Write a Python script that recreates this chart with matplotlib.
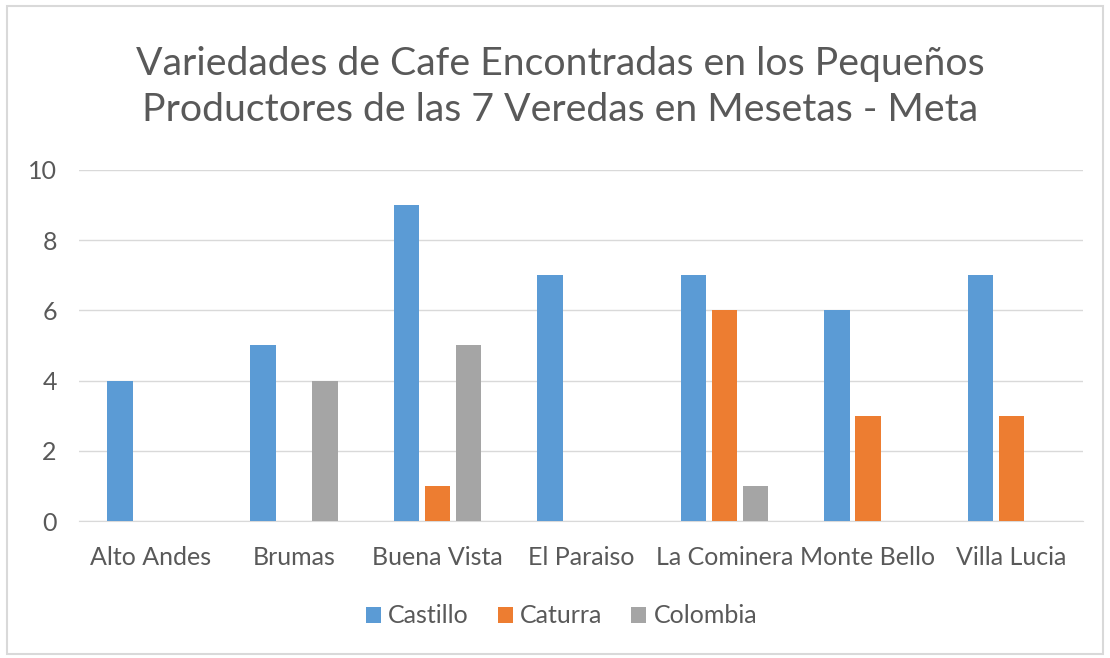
import numpy as np
import matplotlib.pyplot as plt
from matplotlib.patches import Rectangle

veredas = ["Alto Andes", "Brumas", "Buena Vista", "El Paraiso",
           "La Cominera", "Monte Bello", "Villa Lucia"]
castillo = [4, 5, 9, 7, 7, 6, 7]
caturra = [0, 0, 1, 0, 6, 3, 3]
colombia = [0, 4, 5, 0, 1, 0, 0]

series = [("Castillo", castillo, "#5B9BD5"),
          ("Caturra", caturra, "#ED7D31"),
          ("Colombia", colombia, "#A5A5A5")]

plt.rcParams['font.family'] = ['Lato', 'DejaVu Sans']
txt = "#595959"

fig = plt.figure(figsize=(11.1, 6.58), dpi=100)
ax = fig.add_axes([0.0712, 0.208, 0.9045, 0.534])

# chart border like the Excel frame
fig.patches.append(Rectangle((0.006, 0.006), 0.988, 0.985, transform=fig.transFigure,
                             fill=False, edgecolor="#D9D9D9", linewidth=1.5))

x = np.arange(len(veredas))
w = 0.178
step = 0.216
for i, (name, vals, col) in enumerate(series):
    ax.bar(x + (i - 1) * step, vals, width=w, color=col, label=name, zorder=3)

ax.set_xlim(-0.5, len(veredas) - 0.5)
ax.set_ylim(0, 10)
ax.set_yticks(range(0, 11, 2))
ax.set_xticks(x, labels=veredas)
ax.grid(axis="y", color="#D9D9D9", linewidth=1, zorder=0)
for s in ["top", "right", "left"]:
    ax.spines[s].set_visible(False)
ax.spines["bottom"].set_color("#D9D9D9")
ax.tick_params(axis="both", length=0, colors=txt, labelsize=18)
ax.tick_params(axis="x", pad=18)
ax.tick_params(axis="y", pad=16)

fig.text(0.505, 0.868, "Variedades de Cafe Encontradas en los Pequeños\n"
         "Productores de las 7 Veredas en Mesetas - Meta",
         ha="center", va="center", fontsize=28.3, color=txt, linespacing=1.33)

fig.legend(loc="center", bbox_to_anchor=(0.506, 0.064), ncol=3, frameon=False,
           fontsize=18, labelcolor=txt, handlelength=0.6, handleheight=0.6,
           handletextpad=0.3, columnspacing=1.15)

fig.savefig("out.png", dpi=100)
